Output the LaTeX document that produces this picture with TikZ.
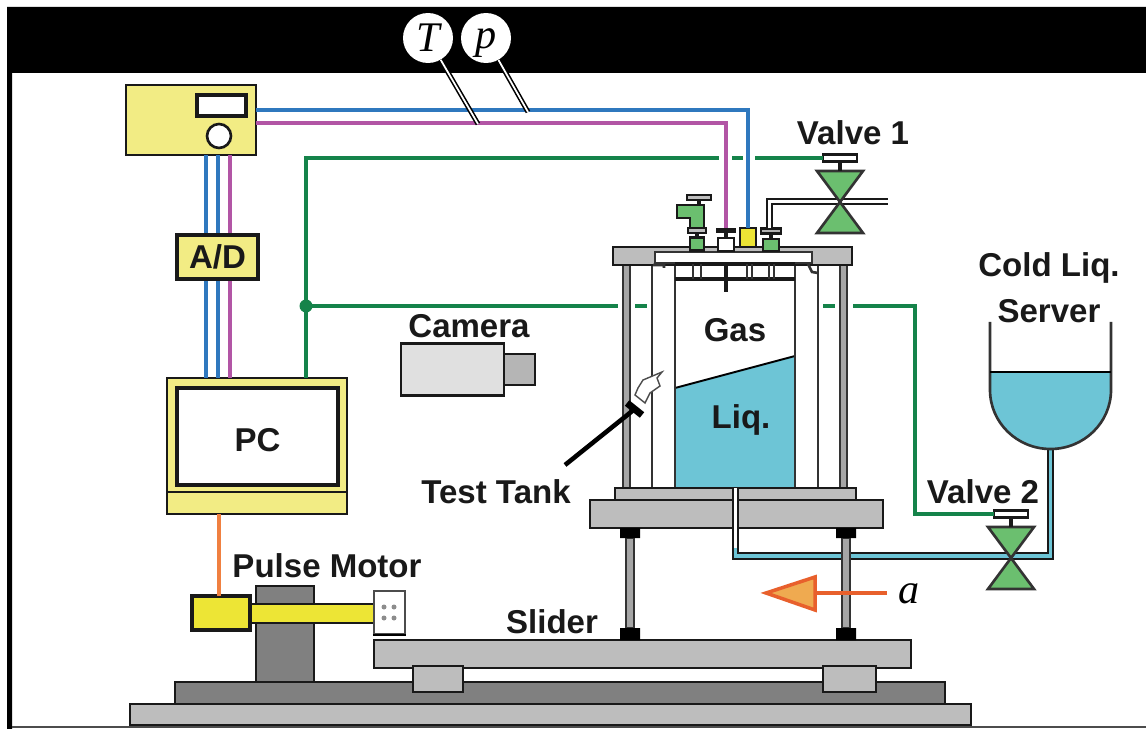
\documentclass[tikz,border=0pt]{standalone}
\usepackage{fontspec}
\setmainfont{Liberation Sans}
\newfontfamily\symfont{Liberation Serif}
\usetikzlibrary{arrows.meta,positioning,calc}
\definecolor{wblue}{HTML}{2F78BE}
\definecolor{wpink}{HTML}{B255A5}
\definecolor{wgreen}{HTML}{15834A}
\definecolor{wfill}{HTML}{F2EC84}
\definecolor{wyel}{HTML}{EDE535}
\definecolor{vgreen}{HTML}{6BBF6F}
\definecolor{liq}{HTML}{6DC5D6}
\definecolor{plate}{HTML}{BDBDBD}
\definecolor{dgray}{HTML}{808080}
\definecolor{wor}{HTML}{E8602C}
\definecolor{wtip}{HTML}{EFAA50}
\definecolor{wline}{HTML}{F08040}
\tikzset{
  sz/.style 2 args={minimum width=#1*0.2mm,minimum height=#2*0.2mm},
  b/.style={draw=black!90,line width=1.5pt,inner sep=0pt,outer sep=0pt,rectangle},
  lb/.style={font=\fontsize{18.8}{21}\selectfont\bfseries,inner sep=0pt,text=black!90},
  sy/.style={font=\fontsize{24}{26}\selectfont\symfont\itshape,inner sep=0pt},
  wire/.style={line width=2.1pt},
  wall/.style={draw=black!80,line width=1.5pt},
  pl/.style={draw=black!90,line width=1.5pt,fill=plate},
  valve/.pic={
    \draw[wall,fill=vgreen] (-23,-29)--(23,-29)--(-23,33)--(23,33)--cycle;
    \draw[black!90,line width=2.2pt] (0,-29)--(0,-41);
    \node[b,fill=white,sz={34}{7}] (-hd) at (0,-42) {};
  }
}
\begin{document}
\begin{tikzpicture}[x=0.02cm,y=-0.02cm]
\useasboundingbox (0,0) rectangle (1146,729);
\fill[white] (0,0) rectangle (1146,729);
\fill[black] (7,7) rectangle (1146,73) (7,73) rectangle (12,729);
\draw[black!70,line width=.6pt] (12,727)--(1146,727);

\node[b,fill=wfill,sz={130}{70}] (meter) at (191,120) {};
\node[b,fill=white,line width=1.9pt,sz={49}{21}] (disp) at (221.5,105.5) {};
\node[b,circle,fill=white,sz={24}{24}] (knob) at (219,136) {};
\node[b,fill=wfill,sz={180}{114}] (pc) at (257,435) {};
\node[b,fill=wfill,sz={180}{22}] (pcbase) at (257,503) {};
\node[b,fill=white,line width=2.2pt,sz={161}{97},lb,text height=17pt,text depth=0pt] (screen) at (257.5,436.5) {PC};

\foreach \xx/\cc in {206/wblue,218/wblue,230/wpink}
  \draw[wire,\cc] (meter.south -| \xx,0) -- (pc.north -| \xx,0);
\node[b,fill=wfill,line width=1.9pt,sz={81}{44},lb] (ad) at (217.5,257) {A/D};

\node[b,fill=wyel,sz={16}{23}] (sens) at (748,239.5) {};
\node[fill=black!90,inner sep=0pt,sz={20}{5}] (capm) at (726,230.5) {};
\draw[wire,wblue] (meter.east |- 0,110) -- (sens.north |- 0,110) -- (sens.north);
\draw[wire,wpink] (meter.east |- 0,123) -- (capm.north |- 0,123) -- (capm.north);

\node[circle,fill=white,inner sep=0pt,sz={50}{50},sy] (tt) at (428,38) {T};
\node[circle,fill=white,inner sep=0pt,sz={50}{50},sy,text height=16.6pt,text depth=5pt] (pp) at (486,38) {p};
\coordinate (tend) at (478,124);
\coordinate (pend) at (528,112);
\draw[black,line width=2.8pt] (tt)--(tend) (pp)--(pend);
\draw[white,line width=1pt] (tt)--(tend) (pp)--(pend);

\node[lb] (lva) at (853,133) {Valve 1};
\node[lb] (lvb) at (983,492) {Valve 2};
\node[lb] (lcam) at (469,326) {Camera};
\node[b,fill=black!12,sz={103}{52}] (cam) at (452.5,369.5) {};
\node[b,fill=black!29,anchor=west,sz={31}{31}] (lens) at (cam.east) {};

\fill[liq] (675,388)--(795,356)--(795,488)--(675,488)--cycle;
\draw[black,line width=1.1pt] (675,388)--(795,356);
\foreach \xx in {652,675,795,818} \draw[wall] (\xx,262)--(\xx,490);
\foreach \xx in {623,840} \draw[wall,fill=black!35] (\xx,265) rectangle ++(7,225);
\draw[pl] (613,247) rectangle (852,265);
\draw[wall,fill=white] (655,252) rectangle (812,263);
\draw[wall] (653,265)--(664,265)--(664,268) (808,264)--(812,272)--(818,273);
\draw[black!90,line width=2pt] (675,264)--(795,264) (675,279)--(795,279);
\foreach \xx in {693,701,747,752,769,774} \draw[wall] (\xx,264)--(\xx,279);
\draw[black!90,line width=2.4pt] (726,264)--(726,292);

\node[lb] (lgas) at (735,330) {Gas};
\node[lb] (lliq) at (741,420) {Liq.};

\draw[pl] (615,488) rectangle (856,500);
\draw[pl] (590,500) rectangle (883,528);
\coordinate (pa) at (735.5,488);
\coordinate (pb) at (735.5,556);
\coordinate (pc1) at (1050.5,556);
\coordinate (pd) at (1050.5,449);
\draw[black!90,line width=4.3pt] (pa)--(pb)--(pc1)--(pd);
\draw[white,line width=1.9pt] (pa)--(735.5,548);
\draw[liq,line width=1.9pt] (735.5,548)--(pb)--(pc1)--(pd);

\draw[pl] (374,640) rectangle (911,668);
\draw[pl,fill=dgray] (175,682) rectangle (945,704);
\draw[pl] (130,704) rectangle (971,725);
\draw[pl] (413,666) rectangle (463,692);
\draw[pl] (823,666) rectangle (876,692);
\foreach \xx in {630,846} {
  \draw[wall,fill=black!35] (\xx-4,538) rectangle (\xx+4,628);
  \fill[black] (\xx-10,528) rectangle (\xx+10,538) (\xx-10,628) rectangle (\xx+10,640);
}

\node[b,fill=dgray,sz={58}{96}] (col) at (285,634) {};
\node[b,fill=wyel,sz={124}{19}] (rod) at (312,613.5) {};
\node[b,fill=wyel,line width=1.9pt,sz={58}{34}] (motor) at (221,613) {};
\node[draw=black!70,line width=1.2pt,fill=white,inner sep=0pt,sz={31}{43}] (plt) at (389.5,612.5) {};
\foreach \xx in {384,394} \foreach \yy in {607,618} \fill[black!45] (\xx,\yy) circle (2.5);
\draw[black,line width=1.6pt] (plt.south west)--(plt.south east);
\coordinate (ot) at (219,514);
\draw[wire,wline] (ot) -- (ot |- motor.north);
\node[lb] (lpm) at (327,566) {Pulse Motor};
\node[lb] (lsl) at (552,622) {Slider};

\fill[liq] (990,372)--(1111,372)--(1111,390) arc[start angle=0,end angle=180,x radius=60.5,y radius=59]--cycle;
\draw[wall] (990,322)--(990,390) arc[start angle=180,end angle=0,x radius=60.5,y radius=59]--(1111,322);
\draw[black,line width=.9pt] (990,372)--(1111,372);
\node[lb,align=center] (lcold) at (1049,288) {Cold Liq.\\[5pt]Server};

\draw[b,fill=vgreen] (677,205)--(704,205)--(704,228)--(690,228)--(690,218)--(677,218)--cycle;
\node[b,fill=black!25,sz={24}{5}] (hda) at (699,197.5) {};
\draw[black!90,line width=2.2pt] (hda)--(699,205) (697,233)--(697,238) (726,233)--(726,238) (771,233)--(771,239);
\node[b,fill=black!25,sz={18}{5}] (cpa) at (697,230.5) {};
\node[b,fill=vgreen,sz={14}{13}] (ba) at (697,244) {};
\node[b,fill=white,sz={16}{13}] (bm) at (726,244.5) {};
\node[b,fill=vgreen,sz={16}{12}] (bd) at (771,245) {};
\node[b,fill=black!30,sz={20}{5}] (capd) at (771,231) {};
\coordinate (pve) at (888,201.5);
\draw[black!90,line width=4.3pt] (capd.north -| 769.5,0) -- (769.5,201.5) -- (pve);
\draw[white,line width=1.9pt] (capd.north -| 769.5,0) -- (769.5,201.5) -- (pve);

\pic (va) at (840,200) {valve};
\pic (vb) at (1011,556) {valve};
\coordinate (jn) at (306,306);
\coordinate (gt) at (306,158);
\draw[wire,wgreen] (pc.north -| jn) -- (gt) -- (719,158) (732,158)--(743,158) (755,158)--(va-hd.west);
\draw[wire,wgreen] (jn) -- (618,306) (635,306)--(647,306) (823,306)--(835,306);
\draw[wire,wgreen] (853,306) -- (915,306) -- (915,514) -- (vb-hd.west);
\fill[wgreen] (jn) circle (6.5);

\node[lb] (ltt) at (496,492) {Test Tank};
\coordinate (pa0) at (565,465);
\coordinate (pa1) at (636,408);
\draw[black,line width=2.6pt] (pa0)--(pa1);
\draw[black,line width=4pt] (627,403)--(642,415);
\draw[black!70,fill=white,line width=.8pt] (638,388)--(643,380)--(662,372)--(657,378)--(660,386)--(650,393)--(645,403)--(635,395)--cycle;

\coordinate (aa) at (887,593);
\coordinate (ab) at (815,593);
\draw[wor,line width=2pt] (aa)--(ab);
\draw[wor,line width=2pt,fill=wtip,line join=miter] (766,593)--(815,577)--(815,610)--cycle;
\node[sy] (la) at (909,594) {a};
\end{tikzpicture}
\end{document}
